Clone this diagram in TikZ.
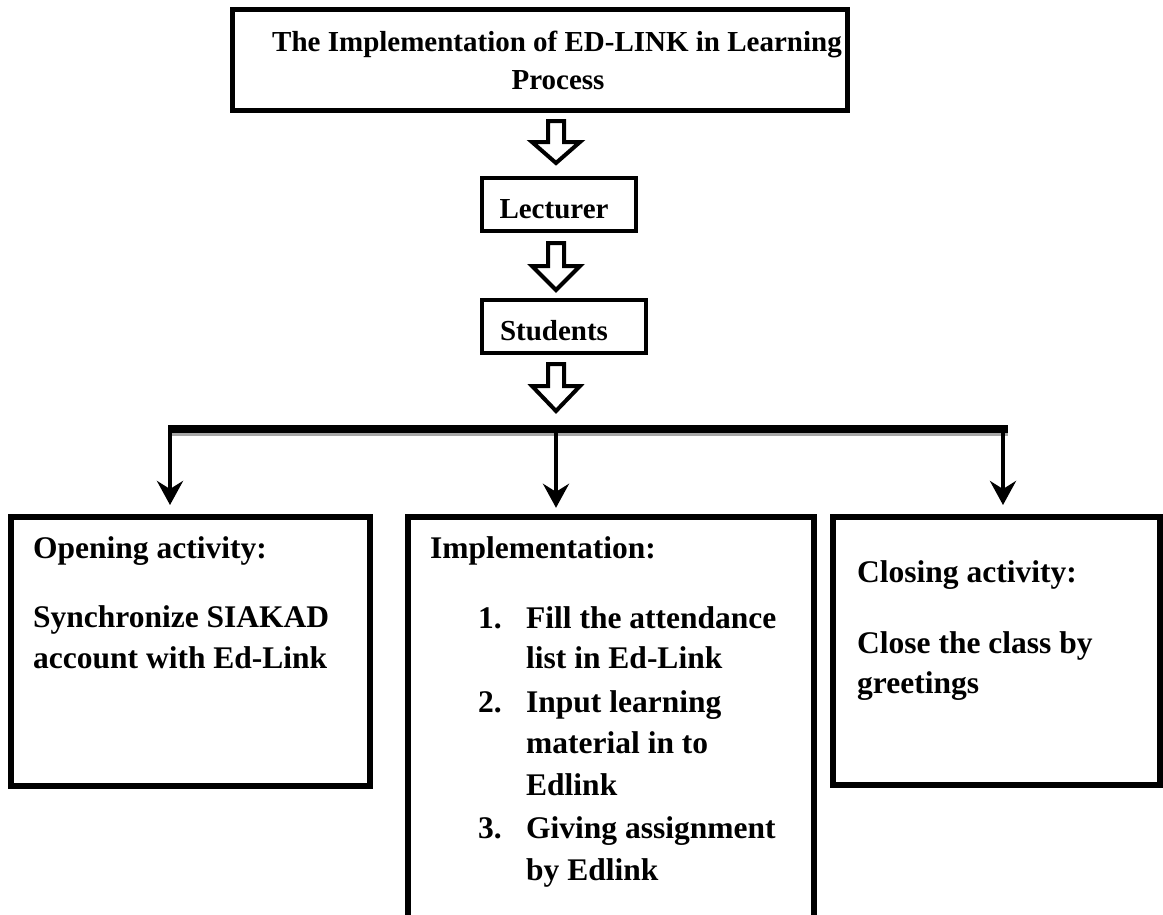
\documentclass[tikz,border=0pt]{standalone}
\usepackage{fontspec}
\setmainfont{Liberation Serif}
\usetikzlibrary{arrows.meta,calc}
\tikzset{
  box/.style={draw=black, line width=5pt, fill=none, inner sep=0pt},
  boxthin/.style={draw=black, line width=4.5pt, inner sep=0pt},
  txtA/.style={inner sep=0pt, anchor=base, font=\fontsize{29}{35}\selectfont\bfseries},
  txtB/.style={inner sep=0pt, anchor=base west, font=\fontsize{31.5}{42}\selectfont\bfseries},
  blockarrow/.style={draw=black, line width=4pt, fill=white, line join=miter},
  downarrow/.style={line width=4pt, -{Stealth[length=24pt,width=26pt,inset=8pt]}},
}
\begin{document}
\begin{tikzpicture}[x=1pt,y=-1pt]
\useasboundingbox (0,0) rectangle (1163,914);
% title box
\node[box, minimum width=615pt, minimum height=101pt] (title) at (539.5,59.5) {};
\node[txtA] (t1) at (557,51) {The Implementation of ED-LINK in Learning};
\node[txtA] (t2) at (558,89) {Process};
% lecturer
\node[boxthin, minimum width=154pt, minimum height=53pt] (lect) at (559,204.5) {};
\node[txtA] (lt) at (554,218) {Lecturer};
% students
\node[boxthin, minimum width=164pt, minimum height=53pt] (stud) at (564,326.5) {};
\node[txtA] (st) at (554,340) {Students};
% block arrows
\newcommand{\blockarr}[4]{% x, top, base, tip
  \draw[blockarrow] (#1-8,#2) -- (#1+8,#2) -- (#1+8,#3) -- (#1+24,#3) -- (#1,#4) -- (#1-24,#3) -- (#1-8,#3) -- cycle;}
\blockarr{556}{121}{142}{163}
\blockarr{556}{243}{266}{290}
\blockarr{556}{364}{386}{411}
% bar
\coordinate (bl) at (168,429);
\coordinate (br) at (1008,429);
\draw[gray!70, line width=4pt] ($(bl)+(0,5)$) -- ($(br)+(0,5)$);
\draw[black, line width=8pt] (bl) -- (br);
% bottom boxes
\node[box, line width=6pt, minimum width=359pt, minimum height=269pt] (open) at (190,651.5) {};
\node[inner sep=0pt, minimum width=406pt, minimum height=420pt] (impl) at (611,727) {};
\draw[black, line width=6pt, line join=miter] (impl.south west) -- (impl.north west) -- (impl.north east) -- (impl.south east);
\node[box, line width=6pt, minimum width=327pt, minimum height=268pt] (close) at (996.5,651) {};
% down arrows
\coordinate (a1) at (170,433);
\coordinate (a2) at (556,433);
\coordinate (a3) at (1003,433);
\draw[downarrow] (a1) -- ($(a1 |- open.north)+(0,-9)$);
\draw[downarrow] (a2) -- ($(a2 |- impl.north)+(0,-9)$);
\draw[downarrow] (a3) -- ($(a3 |- close.north)+(0,-9)$);
% left text
\node[txtB] (o1) at (33,558) {Opening activity:};
\node[txtB] (o2) at (33,627) {Synchronize SIAKAD};
\node[txtB] (o3) at (33,668) {account with Ed-Link};
% middle text
\node[txtB] (i0) at (430,558) {Implementation:};
\node[txtB] (n1) at (478,628) {1.};
\node[txtB] (i1) at (526,628) {Fill the attendance};
\node[txtB] (i2) at (526,668) {list in Ed-Link};
\node[txtB] (n2) at (478,712) {2.};
\node[txtB] (i3) at (526,712) {Input learning};
\node[txtB] (i4) at (526,753) {material in to};
\node[txtB] (i5) at (526,795) {Edlink};
\node[txtB] (n3) at (478,838) {3.};
\node[txtB] (i6) at (526,838) {Giving assignment};
\node[txtB] (i7) at (526,880) {by Edlink};
% right text
\node[txtB] (c1) at (857,582) {Closing activity:};
\node[txtB] (c2) at (857,653) {Close the class by};
\node[txtB] (c3) at (857,693) {greetings};
\end{tikzpicture}
\end{document}
